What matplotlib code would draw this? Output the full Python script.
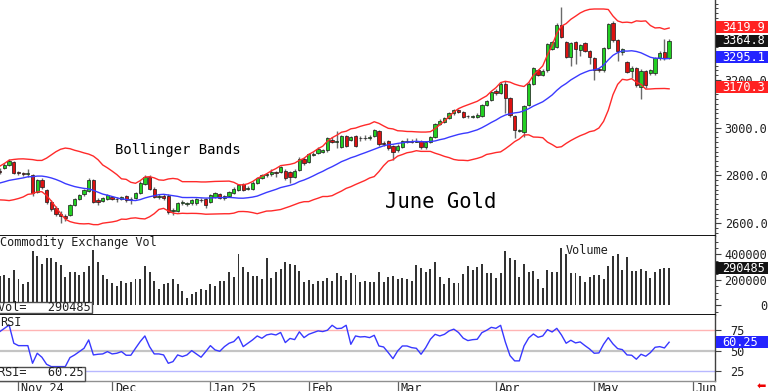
import numpy as np
import pandas as pd
import matplotlib
matplotlib.use("Agg")
import matplotlib.pyplot as plt
from matplotlib.patches import Rectangle
import matplotlib.transforms as mtransforms
from matplotlib.ticker import MultipleLocator, FixedLocator

plt.rcParams['font.family'] = ['DejaVu Sans Mono', 'DejaVu Sans']

# ---------------- data (trading-day index, 0 = 1 Nov 2024) ----------------
day_index = list(range(-4, 140))

prior_closes = [2740, 2745, 2745, 2740, 2735, 2720, 2715, 2730, 2750, 2750,
                2755, 2770, 2785, 2810, 2805, 2820, 2800, 2810, 2820]

opens = [2820, 2830, 2845, 2855, 2812, 2810, 2805, 2800, 2730, 2780,
         2740, 2690, 2665, 2640, 2630, 2635, 2675, 2700, 2720, 2735,
         2780, 2695, 2692, 2700, 2710, 2700, 2700, 2712, 2695, 2705,
         2725, 2765, 2795, 2745, 2710, 2715, 2715, 2650, 2650, 2683,
         2680, 2683, 2683, 2698, 2700, 2690, 2710, 2720, 2705, 2715,
         2725, 2740, 2765, 2745, 2745, 2770, 2790, 2800, 2805, 2815,
         2815, 2820, 2815, 2795, 2823, 2870, 2855, 2885, 2893, 2900,
         2905, 2950, 2940, 2920, 2965, 2950, 2965, 2955, 2958, 2958,
         2965, 2985, 2935, 2945, 2925, 2905, 2920, 2940, 2945, 2942,
         2945, 2918, 2940, 2960, 3015, 3025, 3040, 3060, 3075, 3065,
         3048, 3045, 3045, 3050, 3095, 3115, 3152, 3145, 3185, 3125,
         3050, 2985, 2982, 3095, 3185, 3240, 3222, 3240, 3330, 3340,
         3430, 3360, 3295, 3358, 3325, 3355, 3320, 3290, 3245, 3240,
         3333, 3438, 3367, 3315, 3275, 3238, 3250, 3170, 3237, 3228,
         3228, 3290, 3315, 3292]

highs = [2830, 2850, 2870, 2862, 2820, 2815, 2825, 2805, 2785, 2790,
         2745, 2695, 2670, 2650, 2640, 2680, 2705, 2722, 2745, 2790,
         2785, 2705, 2710, 2722, 2715, 2710, 2715, 2718, 2708, 2730,
         2775, 2800, 2800, 2750, 2720, 2720, 2720, 2665, 2690, 2695,
         2690, 2700, 2705, 2705, 2705, 2722, 2730, 2725, 2718, 2735,
         2750, 2765, 2770, 2755, 2775, 2795, 2805, 2812, 2825, 2820,
         2840, 2825, 2820, 2825, 2875, 2875, 2895, 2900, 2920, 2912,
         2960, 2960, 2985, 2970, 2970, 2965, 2970, 2965, 2968, 2968,
         2995, 2990, 2945, 2950, 2928, 2930, 2950, 2955, 2952, 2955,
         2950, 2945, 2965, 3020, 3035, 3045, 3065, 3080, 3080, 3070,
         3055, 3055, 3060, 3100, 3118, 3155, 3160, 3190, 3195, 3130,
         3055, 2995, 3095, 3190, 3255, 3245, 3245, 3355, 3365, 3440,
         3505, 3365, 3360, 3362, 3350, 3360, 3325, 3295, 3250, 3340,
         3440, 3445, 3370, 3335, 3280, 3260, 3255, 3245, 3240, 3245,
         3298, 3320, 3370, 3370]

lows = [2805, 2825, 2840, 2805, 2800, 2798, 2795, 2715, 2725, 2745,
        2680, 2650, 2630, 2600, 2610, 2630, 2670, 2695, 2712, 2730,
        2685, 2675, 2688, 2695, 2695, 2690, 2695, 2690, 2680, 2700,
        2720, 2760, 2740, 2705, 2700, 2695, 2640, 2635, 2645, 2678,
        2672, 2678, 2678, 2688, 2665, 2685, 2705, 2700, 2695, 2710,
        2720, 2735, 2735, 2738, 2740, 2765, 2785, 2795, 2798, 2795,
        2810, 2780, 2770, 2790, 2818, 2845, 2850, 2880, 2888, 2895,
        2900, 2935, 2915, 2915, 2920, 2945, 2920, 2945, 2948, 2950,
        2960, 2925, 2925, 2905, 2865, 2898, 2915, 2935, 2935, 2938,
        2912, 2910, 2935, 2955, 3010, 3020, 3035, 3055, 3060, 3040,
        3040, 3040, 3040, 3045, 3090, 3110, 3135, 3140, 3060, 3045,
        2955, 2980, 2960, 3090, 3180, 3215, 3218, 3235, 3325, 3335,
        3375, 3290, 3260, 3265, 3300, 3315, 3265, 3200, 3235, 3235,
        3330, 3360, 3280, 3305, 3228, 3210, 3170, 3120, 3165, 3222,
        3220, 3285, 3285, 3288]

closes = [2815, 2845, 2862, 2812, 2810, 2806, 2812, 2725, 2780, 2750,
          2690, 2660, 2640, 2628, 2622, 2675, 2700, 2718, 2740, 2780,
          2690, 2690, 2705, 2718, 2700, 2702, 2710, 2695, 2702, 2725,
          2770, 2795, 2745, 2710, 2715, 2705, 2645, 2655, 2685, 2687,
          2683, 2695, 2700, 2695, 2678, 2718, 2725, 2705, 2712, 2730,
          2745, 2760, 2740, 2748, 2770, 2790, 2800, 2805, 2815, 2812,
          2835, 2790, 2792, 2820, 2870, 2850, 2890, 2890, 2912, 2905,
          2955, 2940, 2945, 2965, 2925, 2960, 2925, 2958, 2955, 2962,
          2990, 2930, 2932, 2915, 2900, 2925, 2945, 2945, 2942, 2945,
          2918, 2940, 2960, 3015, 3030, 3040, 3060, 3075, 3065, 3045,
          3050, 3047, 3055, 3095, 3112, 3150, 3145, 3185, 3125, 3055,
          2990, 2990, 3090, 3185, 3250, 3222, 3238, 3350, 3360, 3430,
          3380, 3295, 3355, 3330, 3345, 3320, 3295, 3240, 3240, 3333,
          3434, 3367, 3320, 3330, 3233, 3250, 3178, 3237, 3178, 3242,
          3292, 3312, 3292, 3364.8]

volume = [230000, 243000, 217000, 282000, 209000, 165000, 186000, 426000, 392000, 327000,
          369000, 369000, 342000, 316000, 225000, 261000, 264000, 243000, 264000, 308000,
          439000, 342000, 243000, 204000, 178000, 152000, 196000, 178000, 186000, 204000,
          204000, 308000, 261000, 196000, 131000, 170000, 178000, 204000, 170000, 112000,
          60000, 91000, 107000, 131000, 118000, 170000, 152000, 196000, 196000, 264000,
          222000, 405000, 301000, 264000, 230000, 230000, 204000, 369000, 212000, 264000,
          290000, 342000, 322000, 320000, 268000,
          183000, 201000, 165000, 191000, 191000, 217000, 191000, 254000, 235000, 201000,
          254000, 243000, 183000, 191000, 183000, 183000, 261000, 183000, 222000, 235000,
          204000, 214000, 209000, 196000, 314000, 295000, 261000, 288000, 345000, 222000,
          165000, 214000, 176000, 180000, 247000, 311000,
          277000, 301000, 329000, 251000, 251000, 217000, 251000, 426000, 374000, 356000,
          222000, 329000, 264000, 269000, 204000, 139000, 277000, 264000, 264000, 452000,
          400000, 256000, 256000, 230000, 183000, 222000, 238000, 238000, 209000, 308000,
          392000, 405000, 282000, 382000, 274000, 274000, 290000, 269000, 217000, 264000,
          290000, 295000, 290485]

rsi = [73.0, 77.0, 81.0, 59.0, 56.1, 56.1, 56.1, 34.8, 46.9, 42.1,
       33.6, 30.8, 30.8, 30.8, 30.8, 41.7, 44.9, 48.9, 52.9, 63.0,
       44.9, 45.7, 46.1, 48.9, 46.1, 46.9, 48.9, 44.5, 44.5, 52.9,
       61.0, 67.8, 54.9, 46.1, 46.1, 44.9, 34.8, 36.8, 44.9, 42.9,
       44.9, 50.1, 46.1, 42.1, 48.9, 56.1, 50.9, 49.3, 54.9, 59.0,
       61.0, 67.0, 54.9, 59.0, 63.0, 67.8, 65.0, 69.0, 70.2, 69.0,
       72.0, 59.8, 64.8, 63.4, 72.8,
       65.8, 69.8, 71.8, 73.9, 73.1, 74.7, 80.7, 76.7, 77.1, 80.7,
       57.7, 67.8, 66.6, 67.0, 65.8, 68.6, 55.7, 54.5, 47.7, 40.4,
       49.7, 55.7, 55.7, 53.7, 52.9, 45.7, 53.7, 63.8, 69.8, 67.8,
       69.8, 73.9, 76.0, 72.0, 65.2, 62.2,
       63.3, 63.8, 71.8, 74.6, 78.2, 77.0, 80.6, 60.6, 44.1, 37.7,
       37.7, 55.7, 65.4, 70.2, 66.2, 67.8, 75.4, 72.6, 77.0, 69.0,
       59.0, 62.6, 59.4, 60.6, 56.2, 52.1, 46.9, 47.3, 57.8, 65.8,
       58.2, 52.5, 51.3, 44.9, 44.5, 39.7, 45.7, 43.3, 47.7, 54.1,
       54.9, 53.3, 60.25]

month_ticks = [0, 20, 41, 62, 81, 102, 123, 144]
month_labels = ["Nov 24", "Dec", "Jan 25", "Feb", "Mar", "Apr", "May", "Jun"]

price_ticks = [2600, 2800, 3000, 3200]
volume_ticks = [0, 200000, 400000]
rsi_levels = [25, 50, 75]

upper_last = 3419.9
close_last = 3364.8
mid_last = 3295.1
lower_last = 3170.3
volume_last = 290485
rsi_last = 60.25

# ---------------- derived ----------------
x = np.array(day_index)
o = np.array(opens, float); h = np.array(highs, float)
l = np.array(lows, float); c = np.array(closes, float)
allc = pd.Series(prior_closes + closes, dtype=float)
mid = allc.rolling(20).mean().to_numpy()[len(prior_closes):]
sd = allc.rolling(20).std(ddof=0).to_numpy()[len(prior_closes):]
upper = mid + 2 * sd
lower = mid - 2 * sd

# ---------------- figure ----------------
W, H = 768, 391
fig = plt.figure(figsize=(W / 100, H / 100), dpi=100)
fig.patch.set_facecolor('white')


def px_axes(x0, y0, x1, y1, **kw):
    return fig.add_axes([x0 / W, 1 - y1 / H, (x1 - x0) / W, (y1 - y0) / H], **kw)


ax = px_axes(0, 0, 715, 236)
axv = px_axes(0, 236, 715, 315, sharex=ax)
axr = px_axes(0, 315, 715, 381, sharex=ax)

ax.set_xlim(-3.95, 148.8)
ax.set_ylim(2546, 3535)
axv.set_ylim(-74500, 545000)
axr.set_ylim(13.4, 93.1)

FS = 8.6
TXT = '#202020'
SP = '#404040'

for a in (ax, axv, axr):
    a.set_facecolor('white')
    a.spines['left'].set_visible(False)
    a.spines['right'].set_color(SP)
    a.spines['right'].set_linewidth(1.0)
    a.yaxis.tick_right()
    a.tick_params(axis='y', which='major', direction='out', length=4, width=0.8,
                  colors=SP, labelcolor=TXT, labelsize=FS)
    a.tick_params(axis='y', which='minor', direction='out', length=2.2, width=0.7, colors=SP)

ax.spines['top'].set_visible(False)
ax.spines['bottom'].set_color('black')
ax.spines['bottom'].set_linewidth(1.3)
axv.spines['top'].set_visible(False)
axv.spines['bottom'].set_color('black')
axv.spines['bottom'].set_linewidth(1.3)
axr.spines['top'].set_visible(False)
axr.spines['bottom'].set_color('#909090')
axr.spines['bottom'].set_linewidth(1.0)

# ---- price panel ----
ax.vlines(x, l, h, color='#6a6a6a', lw=1.0, zorder=2)
up = c >= o
body_col = np.where(up, '#22d022', '#dd1111')
body_bot = np.minimum(o, c)
body_h = np.maximum(np.abs(c - o), 2.5)
ax.bar(x, body_h, width=0.7, bottom=body_bot, color=body_col,
       edgecolor='#1a1a1a', linewidth=0.5, zorder=3)
ax.plot(x, upper, color='#ff2a2a', lw=1.0, zorder=4)
ax.plot(x, lower, color='#ff2a2a', lw=1.0, zorder=4)
ax.plot(x, mid, color='#3a3aff', lw=1.0, zorder=4)

ax.yaxis.set_major_locator(FixedLocator(price_ticks))
ax.yaxis.set_minor_locator(MultipleLocator(20))
ax.yaxis.set_major_formatter(matplotlib.ticker.FormatStrFormatter('%.1f'))
ax.tick_params(axis='y', which='major', pad=3)

ax.text(115 / 715, (236 - 150) / 236, 'Bollinger Bands', transform=ax.transAxes,
        fontsize=10, color='black', ha='left', va='center')
ax.text(385 / 715, (236 - 202) / 236, 'June Gold', transform=ax.transAxes,
        fontsize=14.8, color='black', ha='left', va='center')

# ---- volume panel ----
axv.bar(x, volume, width=0.42, color='#333333', zorder=2)
axv.yaxis.set_major_locator(FixedLocator(volume_ticks))
axv.yaxis.set_minor_locator(MultipleLocator(50000))
axv.yaxis.set_major_formatter(matplotlib.ticker.FormatStrFormatter('%d'))
axv.tick_params(axis='y', which='major', pad=33.5)
for lab in axv.get_yticklabels():
    lab.set_ha('right')
axv.text(0.0, (315 - 243) / 79, 'Commodity Exchange Vol', transform=axv.transAxes,
         fontsize=FS, color=TXT, ha='left', va='center')
axv.text(566 / 715, (315 - 251) / 79, 'Volume', transform=axv.transAxes,
         fontsize=FS, color=TXT, ha='left', va='center')
axv.add_patch(Rectangle((-0.01, 2 / 79), 92 / 715 + 0.01, 11.5 / 79, transform=axv.transAxes,
                        facecolor='white', edgecolor='#505050', lw=1.0, zorder=6, clip_on=False))
axv.text(-2 / 715, (315 - 307.5) / 79, 'Vol=   %d' % volume_last, transform=axv.transAxes,
         fontsize=FS, color=TXT, ha='left', va='center', zorder=7)

# ---- RSI panel ----
axr.axhline(rsi_levels[2], color='#ffb4b4', lw=1.0, zorder=1)
axr.axhline(rsi_levels[1], color='#c4c4c4', lw=1.6, zorder=1)
axr.axhline(rsi_levels[0], color='#b8b8ff', lw=1.0, zorder=1)
axr.plot(x, rsi, color='#3838ff', lw=1.0, zorder=3)
axr.yaxis.set_major_locator(FixedLocator(rsi_levels))
axr.yaxis.set_minor_locator(FixedLocator([]))
axr.tick_params(axis='y', which='major', pad=7)
axr.text(0.0, (381 - 322.5) / 66, 'RSI', transform=axr.transAxes,
         fontsize=FS, color=TXT, ha='left', va='center')
axr.add_patch(Rectangle((-0.01, 0.0), 85 / 715 + 0.01, 14.5 / 66, transform=axr.transAxes,
                        facecolor='white', edgecolor='#505050', lw=1.0, zorder=6, clip_on=False))
axr.text(-2 / 715, (381 - 373) / 66, 'RSI=   %.2f' % rsi_last, transform=axr.transAxes,
         fontsize=FS, color=TXT, ha='left', va='center', zorder=7)

# ---- x axis (dates) ----
for a in (ax, axv):
    a.tick_params(axis='x', which='both', bottom=False, labelbottom=False)
axr.set_xticks(month_ticks)
axr.set_xticklabels(month_labels)
axr.tick_params(axis='x', which='major', direction='out', length=7.5, width=0.9,
                colors='#606060', labelcolor=TXT, labelsize=FS, pad=-7.0)
offset = mtransforms.ScaledTranslation(2 / 72, 0, fig.dpi_scale_trans)
for lab in axr.get_xticklabels():
    lab.set_ha('left')
    lab.set_transform(lab.get_transform() + offset)
ax.set_xlim(-3.95, 148.8)


# ---- value boxes on the right ----
def value_box(a, yval, text, fc, h_px=12):
    trans = mtransforms.blended_transform_factory(fig.transFigure, a.transData)
    y0, y1 = a.get_ylim()
    ax_h_px = a.get_position().height * H
    hh = h_px * (y1 - y0) / ax_h_px
    a.add_patch(Rectangle((715.5 / W, yval - hh / 2), 52.5 / W, hh, transform=trans,
                          facecolor=fc, edgecolor='none', clip_on=False, zorder=10))
    a.text(722 / W, yval, text, transform=trans, color='white', fontsize=FS,
           ha='left', va='center', zorder=11, clip_on=False)


value_box(ax, upper_last, '%.1f' % upper_last, '#ff2222')
value_box(ax, close_last, '%.1f' % close_last, '#141414')
value_box(ax, mid_last, '%.1f' % mid_last, '#2424ff')
value_box(ax, lower_last, '%.1f' % lower_last, '#ff2222')
value_box(axv, volume_last, '%d' % volume_last, '#141414')
value_box(axr, rsi_last, '%.2f' % rsi_last, '#2424ff')
ax.set_ylim(2546, 3535)
axv.set_ylim(-74500, 545000)
axr.set_ylim(13.4, 93.1)

fig.text(761 / W, 1 - 387 / H, '\u2b05', color='#ee0000', fontsize=8,
         family='DejaVu Sans', ha='center', va='center')

fig.savefig('out.png', dpi=100, facecolor='white')
